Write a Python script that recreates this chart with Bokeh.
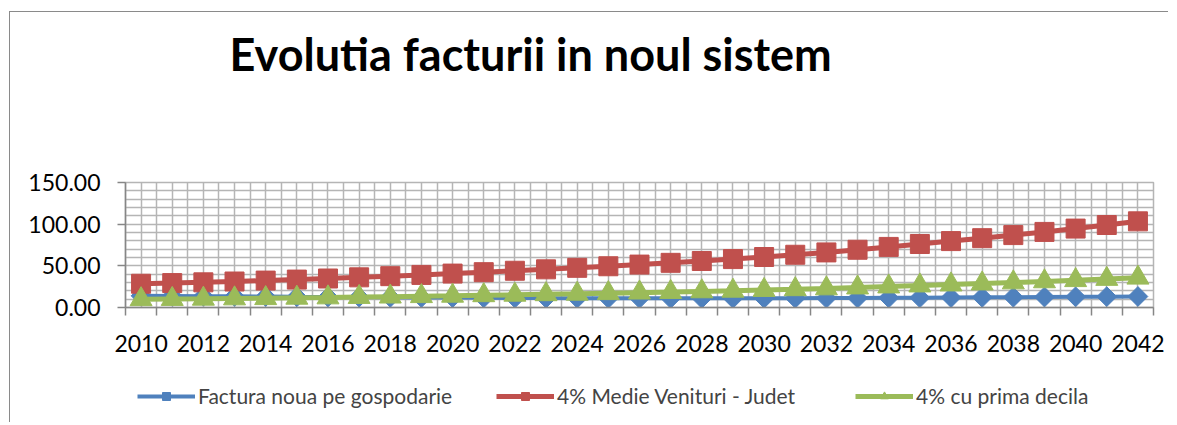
import math
from bokeh.plotting import figure
from bokeh.layouts import column
from bokeh.models import (Range1d, FixedTicker, NumeralTickFormatter, Legend,
                          LegendItem, Label)
from bokeh.embed import file_html
from bokeh.resources import INLINE

# ---------------- data ----------------
years = list(range(2010, 2043))
factura_noua = [14.0, 13.8, 13.6, 13.4, 13.2, 12.9, 12.7, 12.5, 12.3, 12.1,
                11.9, 11.7, 11.5, 11.3, 11.2, 11.1, 11.0, 11.0, 11.0, 11.0,
                11.1, 11.2, 11.3, 11.4, 11.6, 11.8, 12.0, 12.2, 12.4, 12.6,
                12.8, 13.0, 13.2]
medie_venituri = [28.5, 29.3, 30.2, 31.2, 32.3, 33.5, 34.8, 36.2, 37.6, 39.1,
                  40.7, 42.4, 44.1, 45.8, 47.6, 49.5, 51.5, 53.6, 55.8, 58.1,
                  60.6, 63.3, 66.1, 69.3, 72.7, 76.2, 79.7, 83.2, 86.9, 90.7,
                  94.7, 99.0, 103.4]
prima_decila = [9.8, 10.1, 10.4, 10.8, 11.1, 11.6, 12.0, 12.5, 13.0, 13.5,
                14.0, 14.6, 15.2, 15.8, 16.4, 17.1, 17.8, 18.5, 19.3, 20.0,
                20.9, 21.8, 22.8, 23.9, 25.1, 26.3, 27.5, 28.7, 30.0, 31.3,
                32.7, 34.2, 35.7]
series_names = ["Factura noua pe gospodarie", "4% Medie Venituri - Judet",
                "4% cu prima decila"]
title_text = "Evolutia facturii in noul sistem"
y_ticks = [0, 50, 100, 150]
y_minor_step = 10
x_label_years = years[::2]

# ---------------- style ----------------
BLUE, RED, GREEN = "#4F81BD", "#C0504D", "#9BBB59"
GRID = "#b5b5b5"
AXIS = "#868686"
FONT = "Lato"
W = 1158

series_styles = [
    dict(data=factura_noua, color=BLUE, lw=4, marker="square", angle=math.pi / 4, size=14),
    dict(data=medie_venituri, color=RED, lw=5, marker="square", angle=0.0, size=19),
    dict(data=prima_decila, color=GREEN, lw=5, marker="triangle", angle=0.0, size=22),
]


def strip(height, x_range, y_range):
    f = figure(width=W, height=height, output_backend="svg", toolbar_location=None,
               x_range=x_range, y_range=y_range, title_location=None,
               x_axis_type=None, y_axis_type=None,
               min_border_left=0, min_border_right=0,
               min_border_top=0, min_border_bottom=0)
    f.outline_line_color = None
    return f


# ---------------- title strip ----------------
ft = strip(150, Range1d(0, 1), Range1d(0, 1))
ft.add_layout(Label(x=104, y=109, x_units="screen", y_units="screen",
                    text=title_text, text_font=FONT,
                    text_font_style="bold", text_font_size="45px",
                    text_baseline="middle", text_color="black"))

# ---------------- main plot ----------------
p = figure(width=W, height=200, output_backend="svg", toolbar_location=None,
           x_range=Range1d(years[0] - 0.5, years[-1] + 0.5),
           y_range=Range1d(y_ticks[0], y_ticks[-1]), title_location=None,
           min_border_left=115, min_border_right=15,
           min_border_top=20, min_border_bottom=55)
p.background_fill_color = "white"
p.border_fill_color = "white"
p.outline_line_color = GRID
p.outline_line_width = 1.5

half_positions = sorted([y - 0.5 for y in years] + years + [years[-1] + 0.5])
p.xgrid.ticker = FixedTicker(ticks=half_positions)
p.ygrid.ticker = FixedTicker(ticks=list(range(y_ticks[0], y_ticks[-1] + 1, y_minor_step)))
for g in (p.xgrid, p.ygrid):
    g.grid_line_color = GRID
    g.grid_line_width = 1.5

xa = p.below[0]
xa.ticker = FixedTicker(ticks=x_label_years,
                        minor_ticks=[y - 0.5 for y in years] + [years[-1] + 0.5])
xa.major_tick_out = 0
xa.major_tick_in = 0
xa.minor_tick_out = 8
xa.minor_tick_in = 0
xa.minor_tick_line_color = AXIS
xa.minor_tick_line_width = 1.5
xa.axis_line_color = AXIS
xa.axis_line_width = 1.5
xa.major_label_text_font = FONT
xa.major_label_text_font_size = "23px"
xa.major_label_text_color = "black"
xa.major_label_standoff = 19

ya = p.left[0]
ya.ticker = FixedTicker(ticks=y_ticks)
ya.formatter = NumeralTickFormatter(format="0.00")
ya.major_tick_out = 8
ya.major_tick_in = 0
ya.major_tick_line_color = AXIS
ya.major_tick_line_width = 1.5
ya.minor_tick_line_color = None
ya.axis_line_color = AXIS
ya.axis_line_width = 1.5
ya.major_label_text_font = FONT
ya.major_label_text_font_size = "23px"
ya.major_label_text_color = "black"
ya.major_label_standoff = 17

for s in series_styles:
    p.line(years, s["data"], color=s["color"], line_width=s["lw"])
    p.scatter(years, s["data"], marker=s["marker"], angle=s["angle"],
              size=s["size"], color=s["color"])

# ---------------- legend strip ----------------
fl = strip(60, Range1d(0, 1), Range1d(0, 1))
items = []
for name, s in zip(series_names, series_styles):
    # same series, lying outside this strip's view: only their legend samples show
    ln = fl.line(years, s["data"], color=s["color"], line_width=s["lw"])
    mk = fl.scatter(years, s["data"], marker=s["marker"], angle=s["angle"],
                    size=s["size"], color=s["color"])
    items.append(LegendItem(label=name, renderers=[ln, mk]))
legend = Legend(items=items, orientation="horizontal", location=(12, 14),
                label_text_font=FONT, label_text_font_size="21px",
                glyph_width=58, glyph_height=20, label_width=290, spacing=8,
                padding=0, margin=0, label_standoff=3,
                border_line_color=None, background_fill_alpha=0)
fl.add_layout(legend)

layout = column(ft, p, fl, spacing=0, margin=(11, 0, 0, 9),
                styles={"border-left": "1px solid #8a8a8a",
                        "border-top": "1px solid #8a8a8a"})

open("out.html", "w").write(file_html(layout, INLINE))
